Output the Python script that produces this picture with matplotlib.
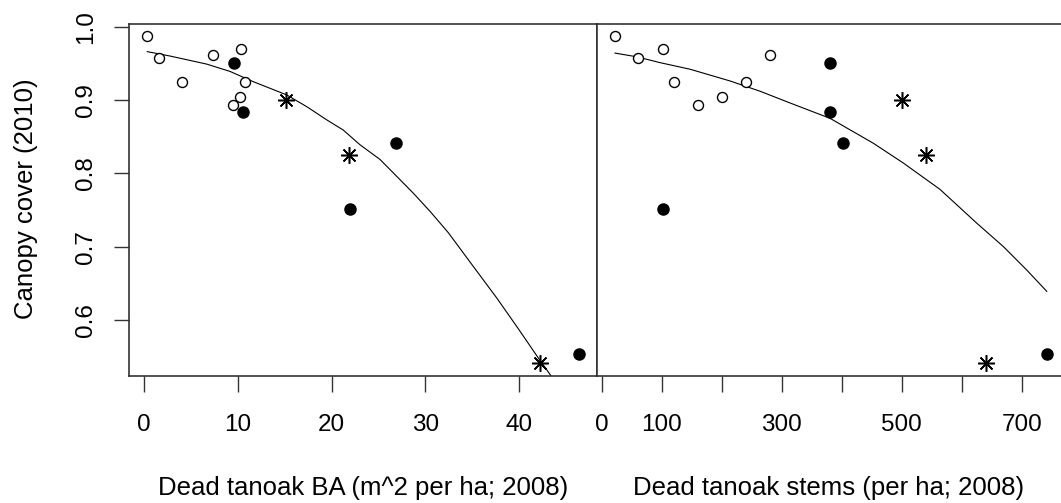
import matplotlib
matplotlib.use("Agg")
import matplotlib.pyplot as plt

plt.rcParams['font.family'] = ['Liberation Sans', 'DejaVu Sans']

# ---- data ----
left_open_x = [0.35, 1.6, 4.0, 7.4, 10.3, 10.8, 10.2, 9.5]
left_open_y = [0.987, 0.957, 0.924, 0.962, 0.970, 0.924, 0.904, 0.893]
left_filled_x = [9.6, 10.55, 26.9, 22.0, 46.4]
left_filled_y = [0.951, 0.883, 0.841, 0.751, 0.554]
left_star_x = [15.1, 21.8, 42.2]
left_star_y = [0.900, 0.825, 0.541]

right_open_x = [21.7, 60.6, 101, 120, 160.7, 199.6, 240, 280.7]
right_open_y = [0.987, 0.957, 0.970, 0.924, 0.893, 0.904, 0.924, 0.962]
right_filled_x = [380, 380, 402, 101, 741.6]
right_filled_y = [0.951, 0.884, 0.841, 0.751, 0.554]
right_star_x = [500, 541, 640]
right_star_y = [0.900, 0.825, 0.541]

left_curve_x = [0.35, 2.77, 4.55, 6.68, 9.17, 11.65, 13.43, 15.2, 17.34, 19.47,
                21.24, 23.02, 25.15, 26.93, 28.7, 30.5, 32.44, 35.1, 37.6,
                39.9, 42.2, 43.6]
left_curve_y = [0.966, 0.960, 0.955, 0.949, 0.939, 0.925, 0.916, 0.907, 0.891,
                0.873, 0.859, 0.839, 0.819, 0.796, 0.773, 0.748, 0.719, 0.673,
                0.630, 0.588, 0.545, 0.520]

right_curve_x = [21.7, 57.8, 96.7, 146.8, 213.5, 263.5, 313.5, 380.3, 452.5,
                 502.5, 563.7, 624.9, 669.3, 708.3, 741.6]
right_curve_y = [0.964, 0.959, 0.951, 0.942, 0.926, 0.912, 0.896, 0.875, 0.841,
                 0.814, 0.778, 0.732, 0.700, 0.668, 0.639]

y_ticks = [0.6, 0.7, 0.8, 0.9, 1.0]
y_ticklabels = ["0.6", "0.7", "0.8", "0.9", "1.0"]
left_xticks = [0, 10, 20, 30, 40]
left_xticklabels = ["0", "10", "20", "30", "40"]
right_xticks = [0, 100, 200, 300, 400, 500, 600, 700]
right_xticklabels = ["0", "100", "", "300", "", "500", "", "700"]

xlabel_left = "Dead tanoak BA (m^2 per ha; 2008)"
xlabel_right = "Dead tanoak stems (per ha; 2008)"
ylabel = "Canopy cover (2010)"

# ---- figure ----
W, H = 1061, 503
fig = plt.figure(figsize=(W / 100, H / 100), dpi=100)
bottom = 1 - 376 / H
height = 352 / H
ax1 = fig.add_axes([129.3 / W, bottom, (597 - 129.3) / W, height])
ax2 = fig.add_axes([597 / W, bottom, (1062 - 597) / W, height])

ylim = (0.5235, 1.0037)
spine_col = '#333333'
tick_fs = 17.5

def draw(ax, ox, oy, fx, fy, sx, sy, cx, cy):
    ax.plot(cx, cy, color='black', lw=0.8, zorder=2)
    ax.plot(ox, oy, ls='none', marker='o', ms=7.2, mfc='white', mec='black',
            mew=1.0, zorder=3)
    ax.plot(fx, fy, ls='none', marker='o', ms=8.0, mfc='black', mec='black',
            mew=1.0, zorder=3)
    ax.plot(sx, sy, ls='none', marker=(8, 2, 0), ms=12, mec='black',
            mew=1.1, zorder=3)
    ax.set_ylim(*ylim)
    for s in ax.spines.values():
        s.set_color(spine_col)
        s.set_linewidth(1.2)

draw(ax1, left_open_x, left_open_y, left_filled_x, left_filled_y,
     left_star_x, left_star_y, left_curve_x, left_curve_y)
draw(ax2, right_open_x, right_open_y, right_filled_x, right_filled_y,
     right_star_x, right_star_y, right_curve_x, right_curve_y)

ax1.set_xlim(-1.57, 48.29)
ax2.set_xlim(-8.3, 767.0)
ax2.spines['right'].set_visible(False)

ax1.set_xticks(left_xticks)
ax1.set_xticklabels(left_xticklabels)
ax2.set_xticks(right_xticks)
ax2.set_xticklabels(right_xticklabels)
ax1.set_yticks(y_ticks)
ax1.set_yticklabels(y_ticklabels, rotation=90, va='center')
ax2.set_yticks([])

for ax in (ax1, ax2):
    ax.tick_params(axis='x', direction='out', length=11.5, width=1.0,
                   color=spine_col, pad=16, labelsize=tick_fs)
ax1.tick_params(axis='y', direction='out', length=11, width=1.0,
                color=spine_col, pad=12, labelsize=tick_fs)

fig.text(363 / W, 1 - 488 / H, xlabel_left, ha='center', va='center',
         fontsize=18.5)
fig.text(829 / W, 1 - 488 / H, xlabel_right, ha='center', va='center',
         fontsize=18.5)
fig.text(26 / W, 1 - 199 / H, ylabel, ha='center', va='center',
         rotation=90, fontsize=18.5)

fig.savefig("out.png", dpi=100)
